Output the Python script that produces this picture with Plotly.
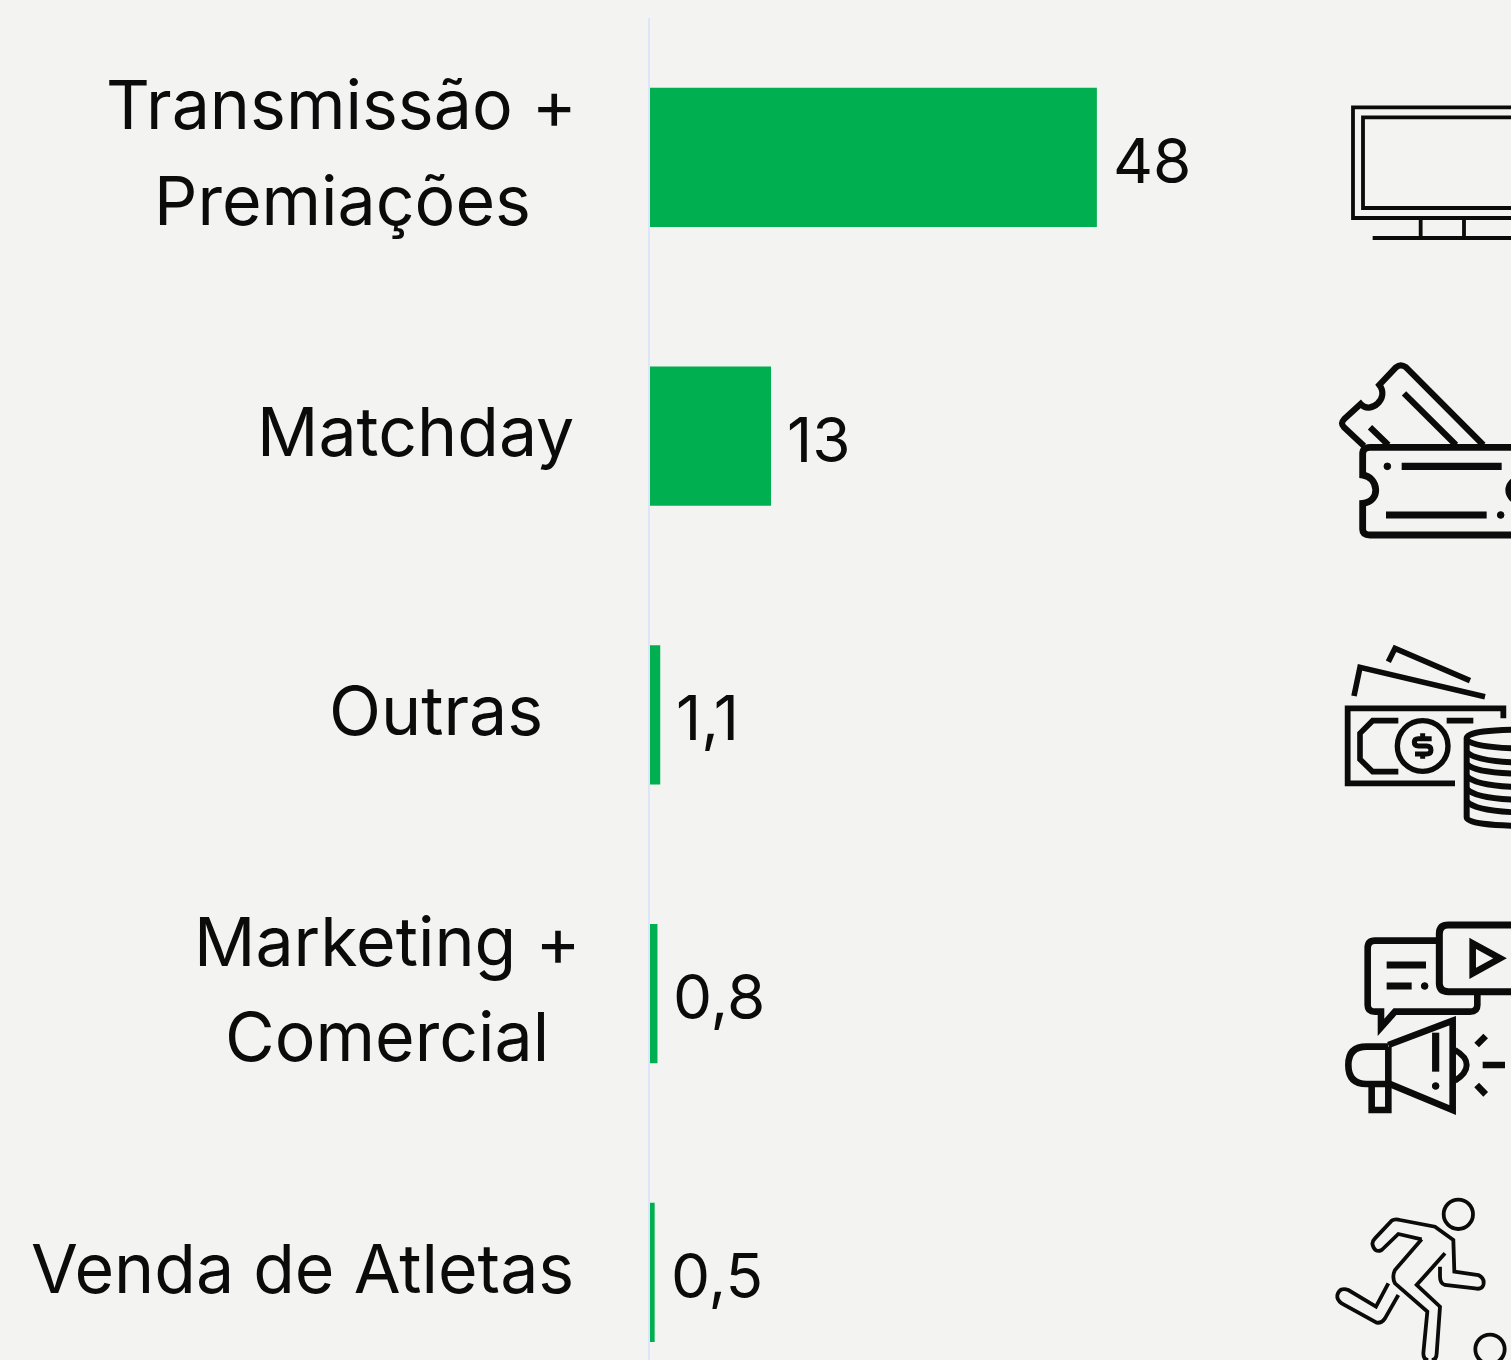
import re
import plotly.graph_objects as go

W, H = 1511, 1360
ML, MT = 650, 18

categories = ["Transmissão + Premiações", "Matchday", "Outras", "Marketing + Comercial", "Venda de Atletas"]
values = [48, 13, 1.1, 0.8, 0.5]
value_labels = ["48", "13", "1,1", "0,8", "0,5"]
label_lines = [["Transmissão +", "Premiações"], ["Matchday"], ["Outras"], ["Marketing +", "Comercial"], ["Venda de Atletas"]]

FONT = "Inter, 'Noto Sans', sans-serif"
INK = "#0b0b0b"
BG = "#f3f3f2"
GREEN = "#00b050"

# text placement in page pixels: (centre x, centre y)
label_xy = [[(341, 104), (342, 200)], [(415.5, 431)], [(435.5, 710)], [(386.5, 941), (387, 1036)], [(302.5, 1268)]]


def px(x):
    return (x - ML) / (W - ML)


def py(y):
    return 1 - (y - MT) / (H - MT)


def zpath(d, ox, oy):
    """Turn an SVG path drawn on a 3x crop with origin (ox, oy) into paper coordinates."""
    out, i = [], 0
    for tok in re.findall(r"[A-Za-z]|-?[\d.]+", d):
        if tok.isalpha():
            out.append(tok)
        else:
            v = float(tok)
            if i % 2 == 0:
                out.append(f"{px(ox + v / 3):.5f}")
            else:
                out.append(f"{py(oy + v / 3):.5f}")
            i += 1
    return " ".join(out)


shapes = []


def stroke(d, ox, oy, w):
    shapes.append(dict(type="path", xref="paper", yref="paper", path=zpath(d, ox, oy),
                       line=dict(color=INK, width=w), fillcolor="rgba(0,0,0,0)", layer="above"))


def ring(cx, cy, r, ox, oy, w, fill=False):
    x, y = ox + cx / 3, oy + cy / 3
    rr = r / 3
    shapes.append(dict(type="circle", xref="paper", yref="paper",
                       x0=px(x - rr), x1=px(x + rr), y0=py(y + rr), y1=py(y - rr),
                       line=dict(color=INK, width=w), fillcolor=INK if fill else "rgba(0,0,0,0)", layer="above"))


# television
o = (1320, 90)
stroke("M 700 52 L 99 52 L 99 384 L 700 384", *o, 3.8)
stroke("M 700 82 L 129 82 L 129 354 L 700 354", *o, 3.8)
stroke("M 302 384 L 302 444 M 432 384 L 432 444 M 158 444 L 700 444", *o, 3.8)

# tickets
stroke("M 132 1068 L 72 1012 Q 60 1000 72 988 L 122 942 C 150 975 210 925 178 885 L 228 832 Q 242 820 258 832 L 490 1065", *o, 6.2)
stroke("M 252 910 L 408 1065 M 150 1012 L 205 1065", *o, 6.2)
stroke("M 700 1072 L 150 1072 Q 128 1072 128 1092 L 128 1155 C 175 1160 185 1235 128 1240 L 128 1318 Q 128 1335 150 1335 L 700 1335", *o, 6.8)
stroke("M 245 1129 L 545 1129 M 198 1275 L 500 1275", *o, 7.2)
ring(202, 1129, 10, *o, 1, True)
ring(542, 1275, 10, *o, 1, True)
stroke("M 600 1165 C 555 1175 555 1225 600 1238", *o, 6.8)

# banknotes and coins
o = (1320, 640)
stroke("M 205 65 L 225 25 L 450 122 M 102 168 L 120 82 L 495 170", *o, 5.6)
stroke("M 550 235 L 550 205 L 83 205 L 83 430 L 405 430", *o, 5.8)
stroke("M 235 242 L 158 242 L 120 280 L 120 358 L 158 395 L 235 395 M 380 242 L 460 242", *o, 5.6)
ring(308, 318, 76, *o, 5.4)
stroke("M 335 296 L 295 296 Q 283 296 283 307 Q 283 318 295 318 L 320 318 Q 333 318 333 330 Q 333 342 320 342 L 285 342", *o, 5)
stroke("M 308 280 L 308 296 M 308 342 L 308 356", *o, 5)
stroke("M 640 268 Q 440 268 440 295 L 440 532 Q 440 558 640 558", *o, 6)
for y0, y1 in [(300, 326), (336, 368), (372, 402), (408, 442), (446, 480), (484, 518)]:
    stroke(f"M 440 {y0} Q 470 {y1} 640 {y1}", *o, 6)

# marketing
o = (1320, 910)
stroke("M 355 92 L 165 92 Q 143 92 143 115 L 143 285 Q 143 305 165 305 L 183 305 L 183 352 L 225 305 L 450 305 Q 472 305 472 285 L 472 250", *o, 6.6)
stroke("M 640 45 L 385 45 Q 358 45 358 72 L 358 220 Q 358 245 385 245 L 640 245", *o, 7)
stroke("M 458 100 L 540 145 L 458 190 Z", *o, 6.6)
stroke("M 200 165 L 318 165 M 200 228 L 275 228", *o, 7.2)
ring(314, 228, 10, *o, 1, True)
stroke("M 205 405 L 398 332 L 398 600 L 205 520", *o, 6.6)
stroke("M 205 410 L 140 410 Q 85 410 85 465 Q 85 522 140 522 L 205 522", *o, 6.6)
stroke("M 205 410 L 205 600 L 155 600 L 155 525", *o, 6.6)
stroke("M 347 368 L 347 485", *o, 7.2)
ring(347, 528, 10, *o, 1, True)
stroke("M 405 420 Q 440 440 440 465 Q 440 490 405 512", *o, 6)
stroke("M 470 405 L 497 378 M 488 465 L 555 465 M 470 525 L 497 553", *o, 6.6)

# runner
stroke("M 305 988 L 235 972 L 185 1020 Q 165 1030 158 1005 Q 155 995 165 985 L 215 932 Q 225 925 240 930 L 345 950 L 400 990 L 403 1085 L 475 1095 Q 495 1105 490 1125 Q 485 1140 465 1135 L 375 1125 Q 360 1120 360 1100 L 360 1070", *o, 3.8)
stroke("M 305 988 L 225 1080 Q 215 1100 225 1120 L 322 1205 L 310 1330 Q 310 1350 325 1350", *o, 3.8)
stroke("M 375 1030 L 290 1125 L 360 1190 L 350 1330 Q 350 1350 335 1350", *o, 3.8)
stroke("M 205 1120 L 168 1190 L 85 1140 Q 60 1130 52 1155 Q 50 1170 65 1180 L 170 1238 Q 185 1240 195 1225 L 235 1155", *o, 3.8)
ring(415, 913, 44, *o, 3.8)
ring(510, 1318, 44, *o, 3.8)

annotations = []
for lines, xy in zip(label_lines, label_xy):
    for line, (x, y) in zip(lines, xy):
        annotations.append(dict(text=line, xref="paper", yref="paper", x=px(x), y=py(y),
                                xanchor="center", yanchor="middle", showarrow=False,
                                font=dict(family=FONT, size=68, color=INK)))
for cat, val, lab in zip(categories, values, value_labels):
    annotations.append(dict(text=lab, x=val, y=cat, xref="x", yref="y", xanchor="left", yanchor="middle",
                            xshift=14, yshift=-3, showarrow=False,
                            font=dict(family=FONT, size=62, color=INK)))

fig = go.Figure(go.Bar(x=values, y=categories, orientation="h", width=0.5,
                       marker=dict(color=GREEN, line=dict(width=0)), hoverinfo="skip"))
fig.update_layout(
    width=W, height=H, margin=dict(l=ML, r=0, t=MT, b=0, pad=0, autoexpand=False),
    paper_bgcolor=BG, plot_bgcolor=BG, showlegend=False,
    shapes=shapes, annotations=annotations,
    xaxis=dict(range=[0, (W - ML) / 9.31], visible=False, fixedrange=True),
    yaxis=dict(type="category", categoryorder="array", categoryarray=categories,
               range=[-0.5 + (H - MT) / 278.75, -0.5], showticklabels=False, ticks="",
               showgrid=False, zeroline=False, showline=True, linecolor="#dbe7f8", linewidth=2, fixedrange=True),
)
fig.write_html("out.html", config=dict(displayModeBar=False),
               post_script="document.body.style.margin='0';document.body.style.overflow='hidden';")
